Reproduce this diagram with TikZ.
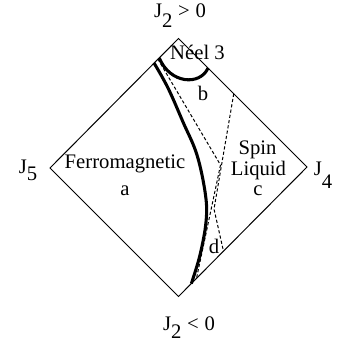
\documentclass[tikz,border=0pt]{standalone}
\usepackage{fontspec}
\setmainfont{Liberation Serif}
\usetikzlibrary{calc}
\begin{document}
\begin{tikzpicture}[x=0.75pt, y=-0.75pt, font=\fontsize{15.5}{17}\selectfont,
    edge/.style={line width=0.75pt},
    bold/.style={line width=2.3pt},
    dashline/.style={line width=0.75pt, dash pattern=on 2.4pt off 1.6pt},
    lab/.style={inner sep=0pt, anchor=base}]
    \useasboundingbox (0,0) rectangle (339,345);

    \coordinate (T) at (178.5,38.5);
    \coordinate (B) at (178.5,296.5);
    \coordinate (L) at (50,168);
    \coordinate (R) at (307,167);

    \draw[edge] (T) -- (R) -- (B) -- (L) -- cycle;

    \coordinate (F1) at ($(L)!0.81!(T)$);
    \coordinate (F2) at ($(B)!0.10!(R)$);
    \draw[bold] plot[smooth, tension=0.6] coordinates {(F1) (168,88) (183,122) (197,155) (205.5,195) (206,222) (200,255) (F2)};

    \coordinate (N1) at ($(L)!0.85!(T)$);
    \coordinate (N2) at ($(T)!0.23!(R)$);
    \draw[bold] (N1) .. controls (170,84) and (200,86) .. (N2);

    \coordinate (D1) at ($(L)!0.84!(T)$);
    \coordinate (D2) at ($(T)!0.43!(R)$);
    \coordinate (D3) at ($(B)!0.35!(R)$);
    \coordinate (D4) at ($(B)!0.14!(R)$);
    \coordinate (X1) at (220.5,165);
    \coordinate (X2) at (214,209);
    \draw[dashline] (D1) -- (X1) -- (D4);
    \draw[dashline] (D2) -- (X2) -- (D3);

    \node[lab] (jtop) at (180,18) {J\raisebox{-7.5pt}{2}\hspace{0.28em}>\hspace{0.28em}0};
    \node[lab] (jbot) at (189,330) {J\raisebox{-6pt}{2}\hspace{0.28em}<\hspace{0.28em}0};
    \node[lab] (jleft) at (28,173) {J\raisebox{-5.5pt}{5}};
    \node[lab] (jright) at (323,175) {J\raisebox{-10pt}{4}};

    \node[lab] (neel) at (197.5,60) {Néel 3};
    \node[lab] (b) at (203,101) {b};
    \node[lab] (ferro) at (125,168) {Ferromagnetic};
    \node[lab] (a) at (125,195) {a};
    \node[lab] (spin) at (257.5,155) {Spin};
    \node[lab] (liquid) at (258.5,175) {Liquid};
    \node[lab] (c) at (258,195) {c};
    \node[lab] (d) at (214,253) {d};
\end{tikzpicture}
\end{document}
